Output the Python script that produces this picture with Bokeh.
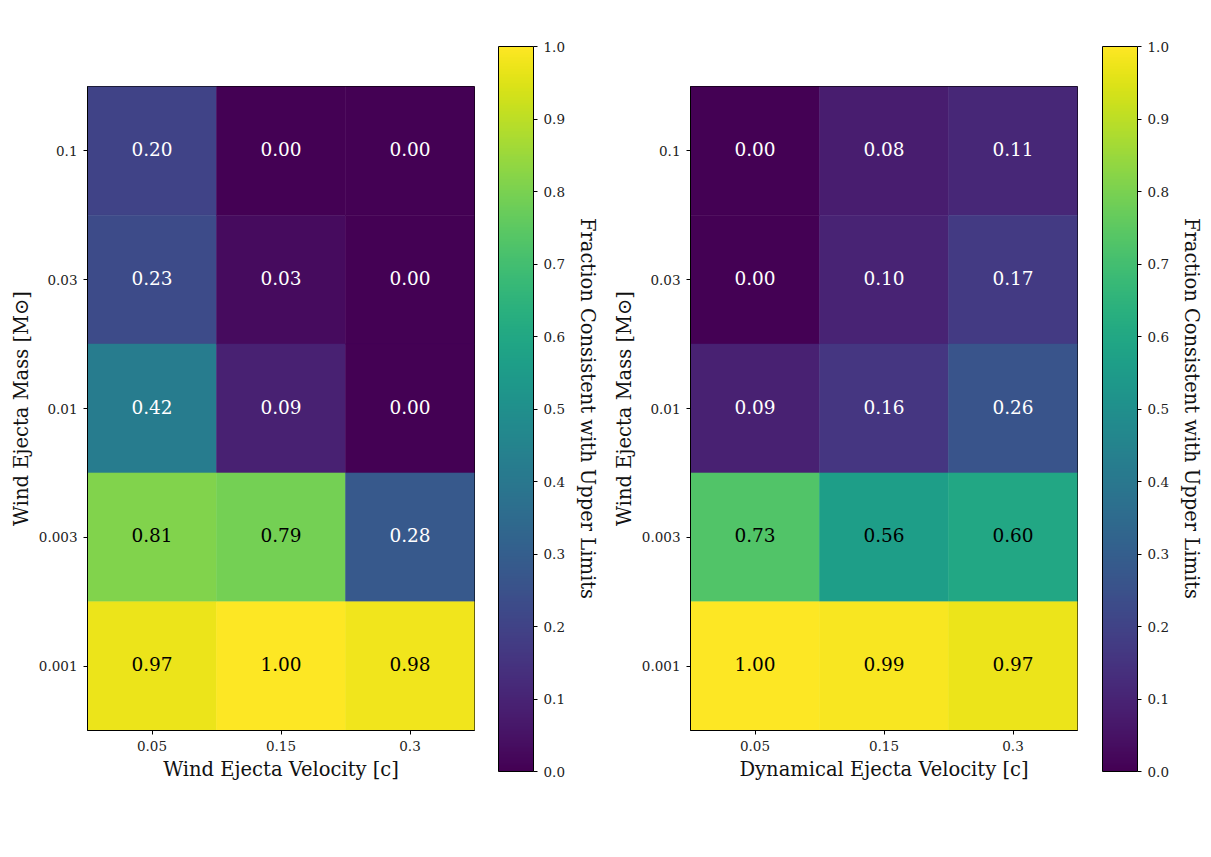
import numpy as np
from bokeh.plotting import figure
from bokeh.layouts import row
from bokeh.models import (LinearColorMapper, FixedTicker, PrintfTickFormatter,
                          ColumnDataSource, ColorBar, Title)
from bokeh.palettes import Viridis256
from bokeh.core.properties import value
from bokeh.embed import file_html
from bokeh.resources import INLINE

velocities = ["0.05", "0.15", "0.3"]
masses = ["0.1", "0.03", "0.01", "0.003", "0.001"]  # top to bottom

wind_fraction = [
    [0.20, 0.00, 0.00],
    [0.23, 0.03, 0.00],
    [0.42, 0.09, 0.00],
    [0.81, 0.79, 0.28],
    [0.97, 1.00, 0.98],
]
dyn_fraction = [
    [0.00, 0.08, 0.11],
    [0.00, 0.10, 0.17],
    [0.09, 0.16, 0.26],
    [0.73, 0.56, 0.60],
    [1.00, 0.99, 0.97],
]
cbar_ticks = [0.0, 0.1, 0.2, 0.3, 0.4, 0.5, 0.6, 0.7, 0.8, 0.9, 1.0]

FONT = "DejaVu Serif"
H = 800
mapper = LinearColorMapper(palette=Viridis256, low=0, high=1)


def panel(vals, xlabel, left, right, cb_gap):
    xs, ys, v, txt, tcol = [], [], [], [], []
    for i, m in enumerate(masses):
        for j, vel in enumerate(velocities):
            xs.append(vel)
            ys.append(m)
            v.append(vals[i][j])
            txt.append("%.2f" % vals[i][j])
            tcol.append("white" if vals[i][j] < 0.5 else "black")
    src = ColumnDataSource(dict(x=xs, y=ys, v=v, txt=txt, tcol=tcol))
    width = left + 387 + right
    p = figure(x_range=velocities, y_range=masses[::-1], width=width, height=H,
               output_backend="svg", toolbar_location=None,
               min_border_left=left, min_border_right=right, min_border_top=86,
               min_border_bottom=70)
    p.frame_width = 387
    p.frame_height = 644
    p.rect(x="x", y="y", width=1, height=1, source=src,
           fill_color={"field": "v", "transform": mapper},
           line_color={"field": "v", "transform": mapper}, line_width=0.5)
    p.text(x="x", y="y", text="txt", source=src, text_color="tcol",
           text_align="center", text_baseline="middle", y_offset=-2,
           text_font=value(FONT), text_font_size="18.5px")
    p.outline_line_color = "black"
    p.outline_line_width = 1
    p.outline_line_alpha = 1
    p.grid.visible = False
    for ax in (p.xaxis, p.yaxis):
        ax.major_label_text_font = FONT
        ax.major_label_text_font_size = "13.5px"
        ax.major_label_text_color = "#222222"
        ax.axis_label_text_font = FONT
        ax.axis_label_text_font_size = "19.5px"
        ax.axis_label_text_font_style = "normal"
        ax.axis_label_text_color = "#111111"
        ax.major_tick_out = 4
        ax.major_tick_in = 0
        ax.minor_tick_line_color = None
        ax.axis_line_color = "black"
        ax.major_label_standoff = 6
    p.xaxis.axis_label = xlabel
    p.yaxis.axis_label = "Wind Ejecta Mass [M\u2299]"
    p.xaxis.axis_label_standoff = 4
    p.yaxis.axis_label_standoff = 3
    p.x_range.range_padding = 0
    p.y_range.range_padding = 0

    cb = ColorBar(color_mapper=mapper, orientation="vertical", width=35, height=725,
                  location=(cb_gap, -41), margin=0, padding=0,
                  ticker=FixedTicker(ticks=cbar_ticks),
                  formatter=PrintfTickFormatter(format="%.1f"),
                  major_label_text_font=FONT, major_label_text_font_size="13.5px",
                  major_label_text_color="#222222",
                  major_tick_out=4, major_tick_in=0, major_tick_line_color="black",
                  minor_tick_line_color=None, label_standoff=6,
                  bar_line_color="black", bar_line_alpha=1,
                  border_line_color=None, background_fill_alpha=0)
    p.add_layout(cb, "right")
    t = Title(text="Fraction Consistent with Upper Limits", align="center",
              text_font=FONT, text_font_size="19.5px", text_font_style="normal",
              text_color="#111111", standoff=17)
    p.add_layout(t, "right")
    return p


h1 = panel(wind_fraction, "Wind Ejecta Velocity [c]", 87, 135, 24)
h2 = panel(dyn_fraction, "Dynamical Ejecta Velocity [c]", 81, 133, 25)
layout = row(h1, h2, spacing=0)
open("out.html", "w").write(file_html(layout, INLINE))
